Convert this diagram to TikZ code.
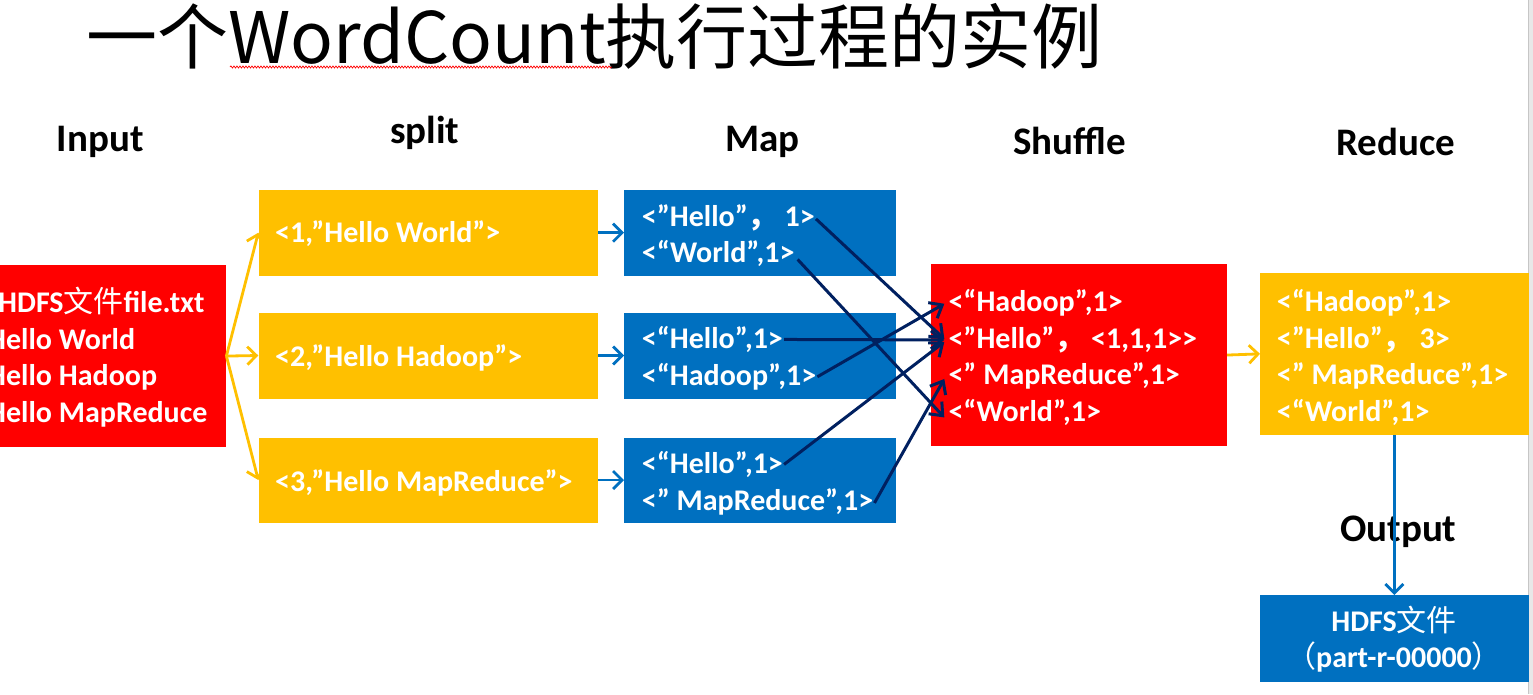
\documentclass[tikz,border=0pt]{standalone}
\usepackage{fontspec}
\setmainfont{Carlito}
\newfontfamily\cjk{Noto Sans CJK SC}
\usetikzlibrary{arrows.meta,calc,decorations.pathmorphing}
\definecolor{redC}{HTML}{FF0000}
\definecolor{oraC}{HTML}{FFC000}
\definecolor{bluC}{HTML}{0070C0}
\definecolor{navC}{HTML}{002060}
\begin{document}
\begin{tikzpicture}[x=1pt,y=-1pt,
  box/.style={rectangle, inner sep=0pt, draw=none, anchor=north west},
  txt/.style={anchor=base west, inner sep=0pt, text=white, font=\bfseries\fontsize{30}{35}\selectfont},
  ctxt/.style={anchor=base, inner sep=0pt, text=white, font=\bfseries\fontsize{30}{35}\selectfont},
  hdr/.style={anchor=base west, inner sep=0pt, font=\bfseries\fontsize{39}{42}\selectfont},
  oarr/.style={draw=oraC, line width=2.8pt, -{Straight Barb[length=9pt,width=18pt,line width=2.8pt]}},
  barr/.style={draw=bluC, line width=2.8pt, -{Straight Barb[length=9pt,width=18pt,line width=2.8pt]}},
  narr/.style={draw=navC, line width=3pt, -{Straight Barb[length=11pt,width=18pt,line width=3pt]}}
]
\useasboundingbox (0,0) rectangle (1533,694);
\fill[white] (0,0) rectangle (1533,694);
\fill[gray!18] (1528,0) rectangle (1533,694);
\draw[gray!45, line width=1.2pt] (1528.6,0) -- (1528.6,694);

% title
\node[anchor=base west, inner sep=0pt, font=\cjk\fontsize{71}{80}\selectfont] (title) at (86,63.3) {一个WordCount执行过程的实例};
\coordinate (sqa) at (230,67);
\coordinate (sqb) at (612,67);
\draw[red, line width=0.7pt, decorate, decoration={snake, amplitude=1pt, segment length=3pt}] (sqa) -- (sqb);

% headers
\node[hdr] (hin) at (56.7,151.7) {Input};
\node[hdr] (hsp) at (390,143.3) {split};
\node[hdr] (hmap) at (725,151.7) {Map};
\node[hdr] (hsh) at (1013,154) {Shuffle};
\node[hdr] (hred) at (1336,155) {Reduce};
\node[hdr] (hout) at (1340,541.7) {Output};

% boxes
\node[box, fill=redC, minimum width=226pt, minimum height=181.7pt] (inbox) at (0,265) {};
\node[box, fill=oraC, minimum width=339.4pt, minimum height=86.4pt] (s1) at (258.3,189.3) {};
\node[box, fill=oraC, minimum width=339.4pt, minimum height=86pt] (s2) at (258.3,312.3) {};
\node[box, fill=oraC, minimum width=339.4pt, minimum height=85pt] (s3) at (258.3,437.3) {};
\node[box, fill=bluC, minimum width=272pt, minimum height=86.4pt] (m1) at (624,189.3) {};
\node[box, fill=bluC, minimum width=272pt, minimum height=86pt] (m2) at (624,312.3) {};
\node[box, fill=bluC, minimum width=272pt, minimum height=85pt] (m3) at (624,437.3) {};
\node[box, fill=redC, minimum width=295.7pt, minimum height=181.7pt] (shbox) at (931,264) {};
\node[box, fill=oraC, minimum width=268.3pt, minimum height=162.7pt] (rbox) at (1260,272.3) {};
\node[box, fill=bluC, minimum width=268.3pt, minimum height=86.7pt] (obox) at (1260,595) {};

% input text
\node[txt] (in1) at (-2,312.5) {HDFS{\cjk\mdseries 文件}file.txt};
\node[txt] (in2) at (-13,349.5) {Hello World};
\node[txt] (in3) at (-13,385.5) {Hello Hadoop};
\node[txt] (in4) at (-13,422.5) {Hello MapReduce};

% split text
\node[txt] (s1t) at (275,242.5) {<1,”Hello World”>};
\node[txt] (s2t) at (275,366.5) {<2,”Hello Hadoop”>};
\node[txt] (s3t) at (275,491.5) {<3,”Hello MapReduce”>};

% map text
\node[txt] (m1a) at (641.7,226.5) {<”Hello”{\cjk ，} 1>};
\node[txt] (m1b) at (641.7,262.5) {<“World”,1>};
\node[txt] (m2a) at (641.7,348.5) {<“Hello”,1>};
\node[txt] (m2b) at (641.7,385.5) {<“Hadoop”,1>};
\node[txt] (m3a) at (641.7,473.5) {<“Hello”,1>};
\node[txt] (m3b) at (641.7,510.5) {<” MapReduce”,1>};

% shuffle text
\node[txt] (sh1) at (948.3,311.5) {<“Hadoop”,1>};
\node[txt] (sh2) at (948.3,348.5) {<”Hello”{\cjk ，} <1,1,1>\kern0pt>};
\node[txt] (sh3) at (948.3,384.5) {<” MapReduce”,1>};
\node[txt] (sh4) at (948.3,421.5) {<“World”,1>};

% reduce text
\node[txt] (r1) at (1276.7,311.5) {<“Hadoop”,1>};
\node[txt] (r2) at (1276.7,348.5) {<”Hello”{\cjk ，} 3>};
\node[txt] (r3) at (1276.7,384.5) {<” MapReduce”,1>};
\node[txt] (r4) at (1276.7,421.5) {<“World”,1>};

% output text
\node[ctxt] (o1) at (1394,631) {HDFS{\cjk\mdseries 文件}};
\node[ctxt] (o2) at (1394,667.5) {{\cjk\mdseries （}part-r-00000{\cjk\mdseries ）}};

% connectors
\draw[oarr] (inbox.east) -- (s1.west);
\draw[oarr] (inbox.east) -- (s2.west);
\draw[oarr] (inbox.east) -- (s3.west);
\draw[barr] (s1.east) -- (m1.west);
\draw[barr] (s2.east) -- (m2.west);
\draw[barr] (s3.east) -- (m3.west);
\draw[oarr] (shbox.east) -- (rbox.west);
\draw[barr] (rbox.south) -- (obox.north);

\draw[narr] ($(m1a.east)+(1,1)$) -- ($(sh2.west)+(-4,-1)$);
\draw[narr] ($(m1b.east)+(3,6)$) -- ($(sh4.west)+(-4,5)$);
\draw[narr] ($(m2a.east)+(1,0)$) -- ($(sh2.west)+(-4,0)$);
\draw[narr] ($(m2b.east)+(1,0)$) -- ($(sh1.west)+(-4,1)$);
\draw[narr] ($(m3a.east)+(1,0)$) -- ($(sh2.west)+(-4,2)$);
\draw[narr] ($(m3b.east)+(1,1)$) -- ($(sh3.west)+(-4,3)$);
\end{tikzpicture}
\end{document}
